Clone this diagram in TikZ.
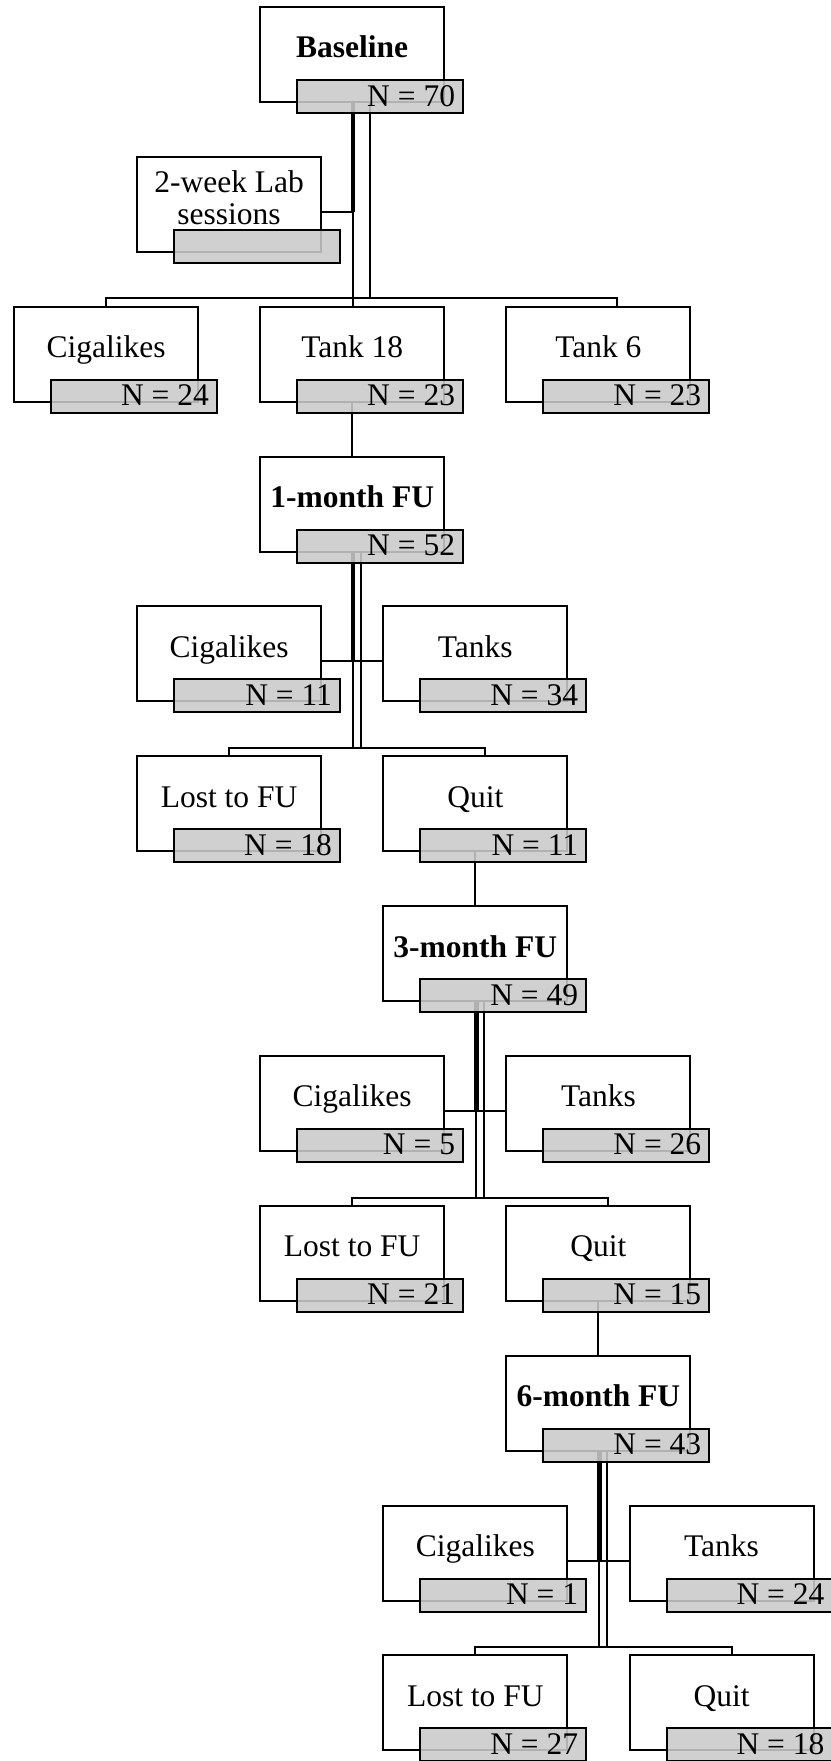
\documentclass[tikz,border=0pt]{standalone}
\usepackage{fontspec}
\setmainfont{Liberation Serif}
\usetikzlibrary{calc}
\definecolor{ngray}{RGB}{202,202,202}
\tikzset{
  mainbox/.style={draw, line width=2pt, fill=white, minimum width=184pt, minimum height=95pt, inner sep=0pt, outer sep=0pt, anchor=north west},
  nbox/.style={draw, line width=2pt, fill=ngray, fill opacity=0.88, minimum width=166pt, minimum height=33pt, inner sep=0pt, outer sep=0pt, anchor=north west},
  lbl/.style={font=\fontsize{31.5}{36}\selectfont, inner sep=0pt, anchor=base},
  blbl/.style={lbl, font=\fontsize{31.5}{36}\selectfont\bfseries},
  nlbl/.style={lbl, anchor=base east},
  conn/.style={line width=2pt},
  trunk/.style={line width=4.5pt}
}
\newcommand{\MainB}[3]{\node[mainbox] (#1) at (#2,#3) {};}
\newcommand{\GrayB}[1]{\node[nbox] (#1-n) at ($(#1.north west)+(37,73)$) {};}
\newcommand{\NText}[2]{\node[nlbl] (#1-nt) at ($(#1.north west)+(195,99)$) {#2};}
\newcommand{\LText}[2]{\node[lbl] (#1-t) at ($(#1.north west)+(92,51)$) {#2};}
\newcommand{\BText}[2]{\node[blbl] (#1-t) at ($(#1.north west)+(92,51)$) {#2};}
% parent, side left, side right, bottom left, bottom right
\newcommand{\FUconn}[5]{%
  \coordinate (#1-a) at ($(#1.south west)+(93,0)$);
  \coordinate (#1-b) at ($(#1.south west)+(101,0)$);
  \coordinate (#1-j) at ($(#2.north east)+(0,55)$);
  \coordinate (#1-bar) at ($(#4.north)+(0,-8)$);
  \draw[trunk] (#1-a) -- (#1-a |- #1-j);
  \draw[conn] (#1-j) -- (#3.west |- #1-j);
  \draw[conn] (#1-a) -- (#1-a |- #1-bar);
  \draw[conn] (#1-b) -- (#1-b |- #1-bar);
  \draw[conn] (#4.north) -- (#1-bar) -- ($(#5.north)+(10,-8)$) -- ($(#5.north)+(10,0)$);
}
\begin{document}
\begin{tikzpicture}[x=1pt, y=-1pt]
\useasboundingbox (0,0) rectangle (830,1761);
% main boxes
\MainB{bl}{260.2}{7}
\MainB{lab}{137.1}{156.85}
\MainB{cg0}{14}{306.7}
\MainB{tk18}{260.2}{306.7}
\MainB{tk6}{506.4}{306.7}
\MainB{m1}{260.2}{456.55}
\MainB{cg1}{137.1}{606.4}
\MainB{tn1}{383.3}{606.4}
\MainB{lo1}{137.1}{756.25}
\MainB{qu1}{383.3}{756.25}
\MainB{m3}{383.3}{906.1}
\MainB{cg3}{260.2}{1055.95}
\MainB{tn3}{506.4}{1055.95}
\MainB{lo3}{260.2}{1205.8}
\MainB{qu3}{506.4}{1205.8}
\MainB{m6}{506.4}{1355.65}
\MainB{cg6}{383.3}{1505.5}
\MainB{tn6}{629.5}{1505.5}
\MainB{lo6}{383.3}{1655.35}
\MainB{qu6}{629.5}{1655.35}
% connectors: baseline
\coordinate (bl-a) at ($(bl.south west)+(93,0)$);
\coordinate (bl-b) at ($(bl.south west)+(110,0)$);
\coordinate (bl-j) at ($(lab.north east)+(0,55)$);
\coordinate (bl-bar) at ($(cg0.north)+(0,-9)$);
\draw[trunk] (bl-a) -- (bl-a |- bl-j);
\draw[conn] (bl-j) -- (bl-a |- bl-j);
\draw[conn] (bl-a) -- (bl-a |- tk18.north);
\draw[conn] (bl-b) -- (bl-b |- bl-bar);
\draw[conn] (cg0.north) -- (bl-bar) -- ($(tk6.north)+(18.6,-9)$) -- ($(tk6.north)+(18.6,0)$);
% single links
\draw[conn] (tk18.south) -- (m1.north);
\draw[conn] (qu1.south) -- (m3.north);
\draw[conn] (qu3.south) -- (m6.north);
% follow-up links
\FUconn{m1}{cg1}{tn1}{lo1}{qu1}
\FUconn{m3}{cg3}{tn3}{lo3}{qu3}
\FUconn{m6}{cg6}{tn6}{lo6}{qu6}
% gray boxes
\foreach \n in {bl,lab,cg0,tk18,tk6,m1,cg1,tn1,lo1,qu1,m3,cg3,tn3,lo3,qu3,m6,cg6,tn6,lo6,qu6}{\GrayB{\n}}
% labels
\BText{bl}{Baseline}
\node[lbl] (lab-t1) at ($(lab.north west)+(92,35.7)$) {2-week Lab};
\node[lbl] (lab-t2) at ($(lab.north west)+(92,67.5)$) {sessions};
\LText{cg0}{Cigalikes}
\LText{tk18}{Tank 18}
\LText{tk6}{Tank 6}
\BText{m1}{1-month FU}
\LText{cg1}{Cigalikes}
\LText{tn1}{Tanks}
\LText{lo1}{Lost to FU}
\LText{qu1}{Quit}
\BText{m3}{3-month FU}
\LText{cg3}{Cigalikes}
\LText{tn3}{Tanks}
\LText{lo3}{Lost to FU}
\LText{qu3}{Quit}
\BText{m6}{6-month FU}
\LText{cg6}{Cigalikes}
\LText{tn6}{Tanks}
\LText{lo6}{Lost to FU}
\LText{qu6}{Quit}
% counts
\NText{bl}{N = 70}
\NText{cg0}{N = 24}
\NText{tk18}{N = 23}
\NText{tk6}{N = 23}
\NText{m1}{N = 52}
\NText{cg1}{N = 11}
\NText{tn1}{N = 34}
\NText{lo1}{N = 18}
\NText{qu1}{N = 11}
\NText{m3}{N = 49}
\NText{cg3}{N = 5}
\NText{tn3}{N = 26}
\NText{lo3}{N = 21}
\NText{qu3}{N = 15}
\NText{m6}{N = 43}
\NText{cg6}{N = 1}
\NText{tn6}{N = 24}
\NText{lo6}{N = 27}
\NText{qu6}{N = 18}
\end{tikzpicture}
\end{document}
